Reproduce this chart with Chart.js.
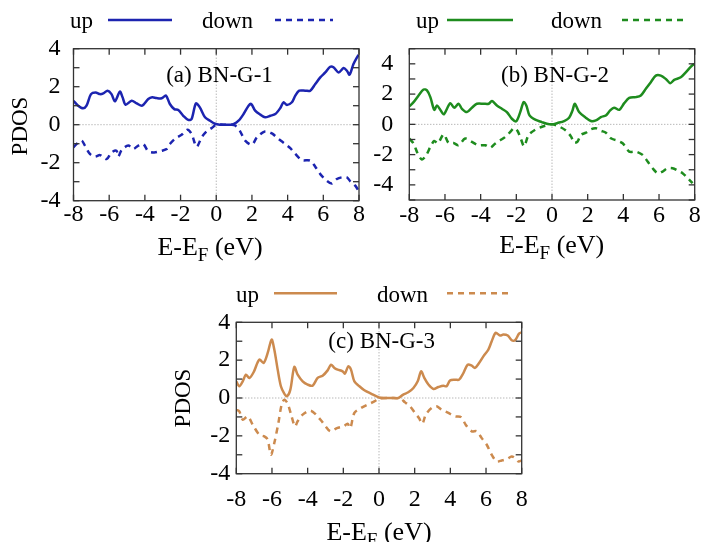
<!DOCTYPE html>
<html>
<head>
<meta charset="utf-8">
<script src="https://cdn.jsdelivr.net/npm/chart.js@4.4.1/dist/chart.umd.min.js"></script>
<style>
  body { margin: 0; background: #fff; }
  #wrap { position: relative; width: 704px; height: 542px; }
  canvas { position: absolute; left: 0; top: 0; }
</style>
</head>
<body>
<div id="wrap">
  <canvas id="pa" width="704" height="542"></canvas>
  <canvas id="pb" width="704" height="542"></canvas>
  <canvas id="pc" width="704" height="542"></canvas>
</div>
<script>
// energy (E-EF, eV) / PDOS pairs
const aUp = [[-8,1.26],[-7.74,1.0],[-7.46,0.86],[-7.27,1.0],[-7.02,1.61],[-6.76,1.70],[-6.51,1.61],[-6.33,1.65],[-6.09,1.79],[-5.87,1.61],[-5.68,1.23],[-5.40,1.74],[-5.25,1.44],[-5.08,1.05],[-4.74,1.26],[-4.46,1.12],[-4.15,1.0],[-3.81,1.35],[-3.59,1.44],[-3.35,1.40],[-3.06,1.39],[-2.82,1.53],[-2.60,1.09],[-2.35,0.82],[-2.13,0.77],[-1.85,0.47],[-1.57,0.25],[-1.38,0.30],[-1.14,1.12],[-0.92,0.91],[-0.63,0.39],[-0.35,0.21],[-0.07,0.05],[0.2,0],[0.5,0],[0.8,0],[0.97,0.03],[1.25,0.21],[1.53,0.56],[1.81,1.0],[1.96,1.09],[2.18,0.74],[2.47,0.53],[2.74,0.39],[3.03,0.47],[3.31,0.56],[3.59,0.88],[3.77,1.18],[3.96,1.04],[4.24,1.18],[4.43,1.53],[4.65,1.79],[4.99,1.79],[5.27,1.79],[5.55,2.14],[5.83,2.49],[6.11,2.75],[6.39,3.05],[6.57,3.02],[6.86,2.75],[7.14,2.98],[7.32,2.84],[7.47,2.63],[7.69,3.19],[7.97,3.68]];
const aDown = [[-8,-1.19],[-7.83,-1.02],[-7.55,-0.84],[-7.36,-1.1],[-7.08,-1.54],[-6.80,-1.68],[-6.51,-1.6],[-6.14,-1.81],[-5.87,-1.46],[-5.59,-1.37],[-5.49,-1.68],[-5.30,-1.33],[-4.93,-1.1],[-4.65,-1.28],[-4.37,-1.1],[-4.09,-1.02],[-3.81,-1.40],[-3.48,-1.46],[-3.06,-1.37],[-2.78,-1.28],[-2.60,-1.02],[-2.32,-0.75],[-1.94,-0.53],[-1.61,-0.26],[-1.38,-0.49],[-1.10,-1.16],[-0.82,-0.67],[-0.54,-0.35],[-0.26,-0.18],[0,0],[0.4,0],[0.88,0],[1.07,-0.05],[1.34,-0.35],[1.62,-0.84],[2.0,-1.05],[2.28,-0.67],[2.74,-0.35],[3.12,-0.46],[3.49,-0.75],[3.87,-1.02],[4.15,-1.23],[4.43,-1.54],[4.80,-1.86],[5.27,-1.89],[5.55,-2.21],[5.83,-2.6],[6.20,-2.95],[6.48,-3.09],[6.76,-2.86],[7.04,-2.77],[7.32,-2.77],[7.51,-2.98],[7.79,-3.21],[7.97,-3.47]];

const bUp = [[-8,1.18],[-7.76,1.47],[-7.48,1.91],[-7.2,2.3],[-7.01,2.24],[-6.82,1.8],[-6.60,0.96],[-6.45,1.25],[-6.30,1.03],[-6.07,0.66],[-5.89,1.03],[-5.70,1.40],[-5.48,1.10],[-5.24,1.36],[-5.05,1.03],[-4.77,0.81],[-4.49,1.10],[-4.21,1.36],[-3.83,1.36],[-3.55,1.36],[-3.37,1.54],[-3.09,1.25],[-2.81,1.03],[-2.53,0.81],[-2.25,0.37],[-2.01,0.20],[-1.78,0.81],[-1.59,1.47],[-1.44,1.25],[-1.26,0.59],[-0.94,0.31],[-0.57,0.15],[-0.29,0.04],[0,0],[0.31,0.09],[0.68,0.22],[0.96,0.44],[1.15,0.92],[1.28,1.36],[1.52,0.81],[1.89,0.44],[2.18,0.22],[2.46,0.26],[2.74,0.48],[3.02,0.59],[3.26,0.92],[3.48,1.10],[3.77,0.96],[4.05,1.40],[4.33,1.75],[4.70,1.80],[4.98,1.91],[5.26,2.35],[5.54,2.79],[5.82,3.22],[6.10,3.22],[6.38,3.0],[6.63,2.72],[6.85,2.94],[7.22,3.11],[7.50,3.44],[7.79,3.82],[7.97,3.99]];
const bDown = [[-8,-0.94],[-7.76,-1.27],[-7.53,-1.93],[-7.29,-2.32],[-7.05,-2.04],[-6.82,-1.49],[-6.6,-1.1],[-6.4,-1.25],[-6.07,-0.66],[-5.80,-1.23],[-5.52,-1.23],[-5.24,-1.38],[-4.87,-0.94],[-4.49,-1.16],[-4.12,-1.38],[-3.74,-1.38],[-3.46,-1.54],[-3.18,-1.27],[-2.90,-1.05],[-2.62,-0.83],[-2.34,-0.50],[-2.12,-0.24],[-1.93,-0.44],[-1.75,-0.94],[-1.56,-1.45],[-1.32,-0.72],[-0.94,-0.35],[-0.48,-0.13],[0,0],[0.41,-0.15],[0.79,-0.42],[1.07,-0.81],[1.24,-1.21],[1.43,-1.14],[1.62,-0.70],[1.90,-0.55],[2.18,-0.33],[2.46,-0.26],[2.74,-0.42],[3.02,-0.55],[3.30,-0.92],[3.67,-1.08],[3.96,-1.25],[4.33,-1.80],[4.70,-1.80],[5.08,-2.02],[5.36,-2.46],[5.64,-2.90],[5.92,-3.23],[6.20,-3.12],[6.48,-2.90],[6.76,-2.90],[7.04,-3.05],[7.32,-3.23],[7.60,-3.55],[7.88,-3.89]];

const cUp = [[-8,0.88],[-7.83,0.62],[-7.64,0.88],[-7.46,1.23],[-7.27,1.06],[-7.03,1.36],[-6.71,2.03],[-6.47,1.85],[-6.24,2.38],[-6.02,3.09],[-5.87,2.56],[-5.68,1.50],[-5.50,0.62],[-5.31,0.23],[-5.16,0.09],[-4.97,0.44],[-4.75,1.64],[-4.56,1.23],[-4.28,0.88],[-4.0,0.71],[-3.72,0.65],[-3.44,1.06],[-3.16,1.18],[-2.88,1.46],[-2.69,1.76],[-2.50,1.59],[-2.32,1.50],[-2.04,1.41],[-1.91,1.29],[-1.72,1.68],[-1.57,1.50],[-1.38,0.88],[-1.10,0.62],[-0.82,0.41],[-0.45,0.23],[0,0.03],[0.34,0],[0.71,0],[1.08,0],[1.36,0.18],[1.64,0.30],[1.93,0.53],[2.17,0.88],[2.36,1.41],[2.54,1.06],[2.77,0.71],[3.05,0.48],[3.33,0.58],[3.61,0.65],[3.79,0.62],[3.98,0.93],[4.26,0.97],[4.49,0.97],[4.73,1.32],[4.97,1.76],[5.20,1.71],[5.38,1.59],[5.61,1.85],[5.85,2.20],[6.13,2.56],[6.32,3.0],[6.54,3.44],[6.79,3.30],[6.97,3.35],[7.22,3.30],[7.44,3.05],[7.63,3.05],[7.85,3.40],[8,3.47]];
const cDown = [[-8,-0.62],[-7.83,-0.71],[-7.64,-1.15],[-7.36,-0.97],[-7.08,-1.41],[-6.71,-1.94],[-6.43,-2.03],[-6.24,-2.20],[-6.06,-3.0],[-5.87,-2.38],[-5.64,-1.32],[-5.46,-0.35],[-5.31,-0.09],[-5.12,-0.30],[-4.90,-0.97],[-4.71,-1.50],[-4.56,-1.23],[-4.28,-0.88],[-3.85,-0.67],[-3.53,-0.88],[-3.16,-1.29],[-2.73,-1.76],[-2.36,-1.59],[-1.98,-1.50],[-1.76,-1.36],[-1.61,-1.59],[-1.38,-0.79],[-1.01,-0.53],[-0.64,-0.35],[-0.26,-0.18],[0,-0.03],[0.6,0],[1.2,-0.03],[1.46,-0.23],[1.74,-0.44],[2.02,-0.79],[2.24,-1.06],[2.43,-1.36],[2.62,-0.88],[2.95,-0.53],[3.23,-0.44],[3.51,-0.62],[3.89,-0.79],[4.26,-0.97],[4.60,-1.01],[4.86,-1.41],[5.20,-1.76],[5.48,-1.76],[5.76,-2.12],[6.04,-2.47],[6.32,-3.0],[6.60,-3.35],[6.88,-3.30],[7.16,-3.23],[7.44,-3.09],[7.63,-3.18],[7.81,-3.35],[8,-3.3]];

const seriesNames = ['up', 'down'];
const xRange = [-8, 8];

const SERIF = 'Liberation Serif';
const Y_W = 60, X_H = 40;

// layout of each panel on the page
const panels = [
  { id: 'pa', up: aUp, down: aDown, color: '#1c24b0', yMax: 4,
    left: 73.5, right: 359, top: 48.7, bottom: 200.7, yPad: 13, xPad: 0,
    tag: '(a) BN-G-1', tagX: 219.5, tagY: 81.7,
    legY: 28, lineY: 20, upR: 93, upL: [108, 172], downR: 253, downL: [275, 333],
    xt: [210, 255], yt: [21, 126] },
  { id: 'pb', up: bUp, down: bDown, color: '#1e8c1e', yMax: 5,
    left: 409.3, right: 694.7, top: 48.7, bottom: 200, yPad: 16, xPad: 1,
    tag: '(b) BN-G-2', tagX: 555, tagY: 81.7,
    legY: 28.3, lineY: 20, upR: 439, upL: [447, 513], downR: 602, downL: [622, 683],
    xt: [551.7, 253], yt: null },
  { id: 'pc', up: cUp, down: cDown, color: '#cc8a4e', yMax: 4,
    left: 236.3, right: 521.7, top: 322.3, bottom: 473.7, yPad: 6, xPad: 12,
    tag: '(c) BN-G-3', tagX: 381.7, tagY: 348.3,
    legY: 301.7, lineY: 293.3, upR: 259, upL: [274, 337], downR: 428, downL: [447, 510],
    xt: [379, 540], yt: [184, 398] }
];

function seg(ctx, x1, y1, x2, y2) {
  ctx.beginPath(); ctx.moveTo(x1, y1); ctx.lineTo(x2, y2); ctx.stroke();
}

const gnuFrame = {
  id: 'gnuFrame',
  beforeDatasetsDraw(chart) {
    const { ctx, chartArea: a, scales: { x, y } } = chart;
    const x0 = x.getPixelForValue(0), y0 = y.getPixelForValue(0);
    ctx.save();
    ctx.strokeStyle = '#999';
    ctx.lineWidth = 1;
    ctx.setLineDash([1, 2]);
    seg(ctx, a.left, y0, a.right, y0);
    seg(ctx, x0, a.top, x0, a.bottom);
    ctx.restore();
  },
  afterDatasetsDraw(chart) {
    const { ctx, chartArea: a, scales: { x, y } } = chart;
    ctx.save();
    ctx.strokeStyle = '#333';
    ctx.lineWidth = 1.3;
    ctx.strokeRect(a.left, a.top, a.right - a.left, a.bottom - a.top);
    x.ticks.forEach(t => {
      const p = x.getPixelForValue(t.value);
      seg(ctx, p, a.bottom, p, a.bottom - 6);
      seg(ctx, p, a.top, p, a.top + 6);
    });
    y.ticks.forEach(t => {
      const p = y.getPixelForValue(t.value);
      seg(ctx, a.left, p, a.left + 6, p);
      seg(ctx, a.right, p, a.right - 6, p);
    });
    ctx.restore();
  },
  afterDraw(chart, args, g) {
    const ctx = chart.ctx;
    ctx.save();
    ctx.fillStyle = '#000';
    // legend: text then line sample, gnuplot style
    ctx.font = '23px "' + SERIF + '"';
    ctx.textAlign = 'right';
    ctx.textBaseline = 'alphabetic';
    chart.data.datasets.forEach((ds, i) => {
      const tr = i === 0 ? g.upR : g.downR;
      const ln = i === 0 ? g.upL : g.downL;
      ctx.fillText(ds.label, tr, g.legY);
      ctx.save();
      ctx.strokeStyle = ds.borderColor;
      ctx.lineWidth = ds.borderWidth;
      ctx.setLineDash(ds.borderDash || []);
      seg(ctx, ln[0], g.lineY, ln[1], g.lineY);
      ctx.restore();
    });
    // panel tag
    ctx.textAlign = 'center';
    ctx.fillText(g.tag, g.tagX, g.tagY);
    // x title E-E_F (eV)
    const big = '26px "' + SERIF + '"', small = '19px "' + SERIF + '"';
    ctx.textAlign = 'left';
    ctx.font = big;
    const w1 = ctx.measureText('E-E').width, w3 = ctx.measureText(' (eV)').width;
    ctx.font = small;
    const w2 = ctx.measureText('F').width;
    let xs = g.xt[0] - (w1 + w2 + w3) / 2;
    ctx.font = big; ctx.fillText('E-E', xs, g.xt[1]);
    ctx.font = small; ctx.fillText('F', xs + w1, g.xt[1] + 6);
    ctx.font = big; ctx.fillText(' (eV)', xs + w1 + w2, g.xt[1]);
    // y title
    if (g.yt) {
      ctx.save();
      ctx.translate(g.yt[0], g.yt[1]);
      ctx.rotate(-Math.PI / 2);
      ctx.font = '23px "' + SERIF + '"';
      ctx.textAlign = 'center';
      ctx.textBaseline = 'middle';
      ctx.fillText('PDOS', 0, 0);
      ctx.restore();
    }
    ctx.restore();
  }
};

const toXY = arr => arr.map(p => ({ x: p[0], y: p[1] }));
const tickFont = { family: SERIF, size: 24 };

panels.forEach(g => {
  new Chart(document.getElementById(g.id), {
    type: 'line',
    data: {
      datasets: [
        { label: seriesNames[0], data: toXY(g.up), borderColor: g.color, borderWidth: 2.5,
          pointRadius: 0, tension: 0.3, fill: false },
        { label: seriesNames[1], data: toXY(g.down), borderColor: g.color, borderWidth: 2.5,
          borderDash: [6, 5], pointRadius: 0, tension: 0.3, fill: false }
      ]
    },
    options: {
      responsive: false,
      animation: false,
      devicePixelRatio: 1,
      layout: { padding: { left: g.left - Y_W, top: g.top, right: 704 - g.right, bottom: 542 - g.bottom - X_H } },
      plugins: { legend: { display: false }, tooltip: { enabled: false }, gnuFrame: g },
      scales: {
        x: {
          type: 'linear', min: xRange[0], max: xRange[1],
          ticks: { stepSize: 2, padding: g.xPad, color: '#000', font: tickFont, maxRotation: 0, autoSkip: false },
          grid: { display: false, drawTicks: false },
          border: { display: false },
          afterFit: s => { s.height = X_H; }
        },
        y: {
          min: -g.yMax, max: g.yMax,
          ticks: { stepSize: 1, padding: g.yPad, color: '#000', font: tickFont, autoSkip: false,
                   callback: v => (v % 2 === 0 && Math.abs(v) <= 4) ? String(v) : '' },
          grid: { display: false, drawTicks: false },
          border: { display: false },
          afterFit: s => { s.width = Y_W; }
        }
      }
    },
    plugins: [gnuFrame]
  });
});
</script>
</body>
</html>
